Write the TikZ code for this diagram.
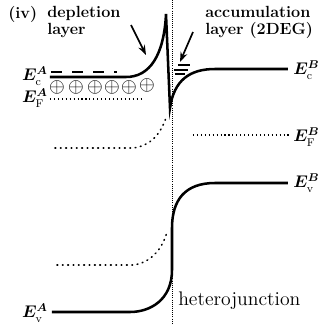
\documentclass[tikz,border=0pt]{standalone}
\usepackage{amsmath,amssymb,bm}
\usetikzlibrary{arrows.meta,positioning,calc}
\tikzset{>=Stealth,band/.style={line width=1.8pt},fermi/.style={dotted,line width=0.8pt},
 oldband/.style={line width=1.1pt,dash pattern=on 0.6pt off 3.2pt,line cap=round},
 junction/.style={densely dotted,line width=0.5pt},
 lab/.style={font=\fontsize{11.5}{13}\selectfont\bfseries,align=left,inner sep=0pt},
 elab/.style={font=\fontsize{11.5}{13}\selectfont,inner sep=0pt},
 donor/.style={inner sep=0pt,font=\fontsize{14}{14}\selectfont},
 pointer/.style={->,line width=1.2pt,>={Stealth[length=7pt,width=5pt]}}}
\newcommand{\Elev}[2]{$\bm{E}_{\mathrm{#1}}^{\bm{#2}}$}
\begin{document}
\begin{tikzpicture}[x=0.025cm,y=-0.025cm]
\useasboundingbox (0,0) rectangle (320,325);
% heterojunction plane
\draw[junction] (172,0)--(172,325);
% conduction band
\draw[band] (50,77)--(126,77) .. controls (150,77) and (164,55) .. (166,14)--(170,108)
 .. controls (174,80) and (190,69) .. (215,69)--(288,69);
% valence band
\draw[band] (288,183)--(215,183) .. controls (185,183) and (172,200) .. (172,228)--(172,270)
 .. controls (172,300) and (150,312) .. (130,312)--(52,312);
% Fermi levels
\draw[fermi] (50,99)--(142,99);
\draw[fermi] (193,135)--(290,135);
% bands before contact
\draw[oldband] (55,148)--(133,148) .. controls (150,146) and (160,135) .. (166,118);
\draw[oldband] (57,265)--(133,265) .. controls (150,263) and (162,250) .. (167,232);
% electrons and donors in layer A
\draw[line width=1pt,dash pattern=on 8pt off 7pt] (51,72)--(117,72);
\foreach \x/\n in {57/1,76/2,95/3,112/4,129/5}
 {\node[donor] (d\n) at (\x,87) {$\oplus$};}
\node[donor] (d6) at (147,85) {$\oplus$};
% 2DEG levels
\draw[line width=0.8pt] (178,65)--(190,65) (174,70)--(188,70) (175,74)--(185,74);
% labels
\node[lab,anchor=north west] (iv) at (8,6) {(iv)};
\node[lab,anchor=north west] (depl) at (47,6) {depletion\\[-1pt]layer};
\node[lab,anchor=north west] (accu) at (205,6) {accumulation\\[-1pt]layer (2DEG)};
\node[font=\fontsize{14}{16}\selectfont,anchor=west,inner sep=0pt] (hj) at (178,301) {heterojunction};
\coordinate (depltip) at (146,55);
\coordinate (accutip) at (180,62);
\draw[pointer] (131,25)--(depltip);
\draw[pointer] (193,32)--(accutip);
\node[elab,anchor=east] (EcA) at (48,76) {\Elev{c}{A}};
\node[elab,anchor=east] (EFA) at (48,98) {\Elev{F}{A}};
\node[elab,anchor=east] (EvA) at (48,313) {\Elev{v}{A}};
\node[elab,anchor=west] (EcB) at (293,70) {\Elev{c}{B}};
\node[elab,anchor=west] (EFB) at (293,137) {\Elev{F}{B}};
\node[elab,anchor=west] (EvB) at (293,183) {\Elev{v}{B}};
\end{tikzpicture}
\end{document}
